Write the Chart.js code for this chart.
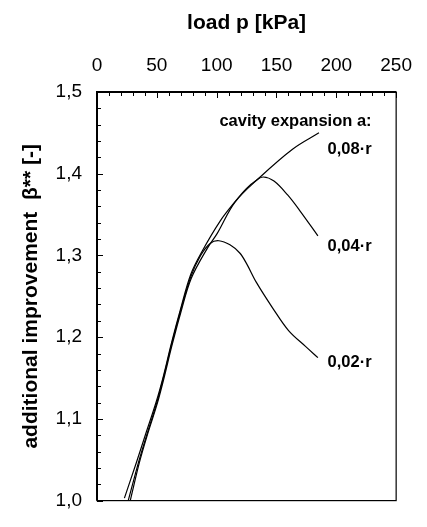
<!DOCTYPE html>
<html>
<head>
<meta charset="utf-8">
<script src="https://cdn.jsdelivr.net/npm/chart.js@4.4.1/dist/chart.umd.min.js"></script>
<style>
  html, body { margin: 0; padding: 0; background: #fff; }
  #wrap { width: 427px; height: 527px; }
</style>
</head>
<body>
<div id="wrap"><canvas id="chart"></canvas></div>
<script>
// load p [kPa] and beta**
const load008 = [27.8, 35.5, 42.0, 50.2, 56.0, 62.5, 69.8, 78.8, 92.3, 100.5, 115.2, 135.6, 163.4, 185.5];
const beta008 = [1.000, 1.047, 1.080, 1.118, 1.150, 1.189, 1.229, 1.272, 1.309, 1.327, 1.365, 1.395, 1.430, 1.450];

const load004 = [22.9, 33.0, 41.0, 49.5, 55.6, 62.1, 69.4, 78.4, 88.2, 102.9, 114.4, 125.0, 133.2, 138.9, 147.9, 159.3, 169.9, 184.6];
const beta004 = [1.003, 1.047, 1.083, 1.121, 1.153, 1.192, 1.232, 1.277, 1.306, 1.342, 1.364, 1.382, 1.392, 1.396, 1.391, 1.374, 1.354, 1.324];

const load002 = [26.1, 35.1, 41.7, 49.8, 55.6, 62.1, 69.4, 78.4, 86.6, 94.8, 101.9, 111.1, 119.3, 125.0, 133.2, 147.1, 160.1, 174.0, 184.6];
const beta002 = [1.000, 1.049, 1.081, 1.119, 1.151, 1.190, 1.230, 1.274, 1.300, 1.315, 1.318, 1.313, 1.303, 1.290, 1.267, 1.235, 1.208, 1.189, 1.175];

const curveLabels = ['0,08·r', '0,04·r', '0,02·r'];
const legendTitle = 'cavity expansion a:';

const FONT = "'Liberation Sans', Arial, sans-serif";

const toPoints = (xs, ys) => xs.map((x, i) => ({x, y: ys[i]}));

const series = [
    {label: curveLabels[0], data: toPoints(load008, beta008)},
    {label: curveLabels[1], data: toPoints(load004, beta004)},
    {label: curveLabels[2], data: toPoints(load002, beta002)},
];

// frame with inward ticks, plus the text notes on the right
const frame = {
    id: 'frame',
    afterDatasetsDraw(chart) {
        const {ctx, chartArea: a, scales: {x, y}} = chart;
        ctx.save();
        ctx.strokeStyle = '#000';
        ctx.lineWidth = 1;
        ctx.beginPath();
        for (let v = 0; v <= 250; v += 10) {
            const px = Math.round(x.getPixelForValue(v)) + 0.5;
            const len = v % 50 === 0 ? 6 : 4;
            ctx.moveTo(px, a.top);
            ctx.lineTo(px, a.top + len);
        }
        for (let i = 0; i <= 25; i++) {
            const py = Math.round(y.getPixelForValue(1 + i * 0.02)) + 0.5;
            const len = i % 5 === 0 ? 6 : 4;
            ctx.moveTo(a.left, py);
            ctx.lineTo(a.left + len, py);
        }
        ctx.stroke();

        ctx.lineWidth = 1.2;
        ctx.strokeRect(a.left, a.top, a.right - a.left, a.bottom - a.top);
        ctx.lineWidth = 2;
        ctx.beginPath();
        ctx.moveTo(a.left, a.bottom);
        ctx.lineTo(a.left, a.top);
        ctx.lineTo(a.right, a.top);
        ctx.stroke();

        ctx.fillStyle = '#000';
        ctx.font = `bold 16.5px ${FONT}`;
        ctx.textAlign = 'right';
        ctx.textBaseline = 'middle';
        const tx = x.getPixelForValue(229.5);
        ctx.fillText(legendTitle, tx, y.getPixelForValue(1.4637));
        [1.4297, 1.3115, 1.1686].forEach((b, i) => {
            ctx.fillText(curveLabels[i], tx, y.getPixelForValue(b));
        });
        ctx.restore();
    }
};

new Chart(document.getElementById('chart'), {
    type: 'scatter',
    data: {
        datasets: series.map(s => ({
            label: s.label,
            data: s.data,
            showLine: true,
            borderColor: '#000',
            backgroundColor: '#000',
            borderWidth: 1.2,
            pointRadius: 0,
            tension: 0.35,
        }))
    },
    options: {
        responsive: true,
        maintainAspectRatio: false,
        animation: false,
        devicePixelRatio: 1,
        layout: {padding: {left: 0, right: 24, top: 0, bottom: 8}},
        plugins: {
            legend: {display: false},
            tooltip: {enabled: false},
        },
        scales: {
            x: {
                type: 'linear',
                position: 'top',
                min: 0,
                max: 250,
                afterFit: s => { s.height = 92; },
                grid: {display: false, drawTicks: false},
                border: {display: false},
                ticks: {
                    stepSize: 50,
                    padding: 15,
                    color: '#000',
                    font: {family: FONT, size: 19},
                },
                title: {
                    display: true,
                    text: 'load p [kPa]',
                    color: '#000',
                    font: {family: FONT, size: 21, weight: 'bold'},
                    padding: {top: 11, bottom: 0},
                },
            },
            y: {
                min: 1.0,
                max: 1.5,
                afterFit: s => { s.width = 97; },
                grid: {display: false, drawTicks: false},
                border: {display: false},
                ticks: {
                    stepSize: 0.1,
                    padding: 15,
                    color: '#000',
                    font: {family: FONT, size: 19},
                    callback: v => v.toFixed(1).replace('.', ','),
                },
                title: {
                    display: true,
                    text: 'additional improvement  β** [-]',
                    color: '#000',
                    font: {family: FONT, size: 21, weight: 'bold'},
                    padding: {top: 19, bottom: 0},
                },
            },
        },
    },
    plugins: [frame],
});
</script>
</body>
</html>
